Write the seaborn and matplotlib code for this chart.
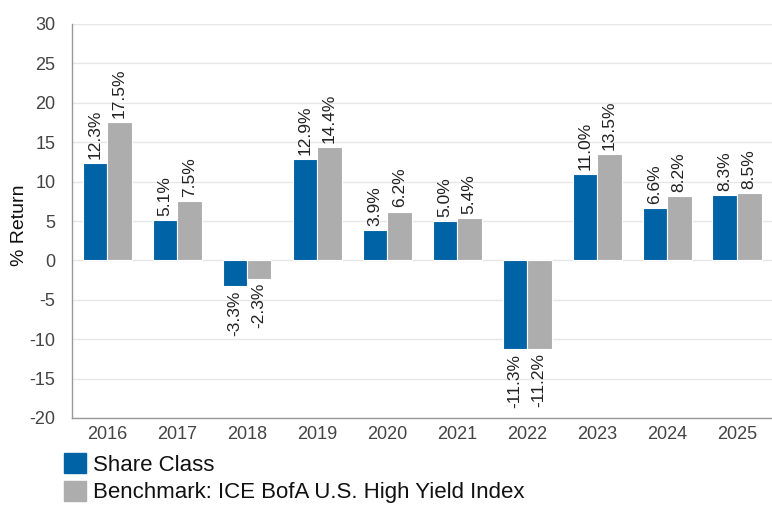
import numpy as np
import pandas as pd
import matplotlib
matplotlib.use("Agg")
import matplotlib.pyplot as plt
import seaborn as sns

years = ["2016", "2017", "2018", "2019", "2020", "2021", "2022", "2023", "2024", "2025"]
share_class = [12.3, 5.1, -3.3, 12.9, 3.9, 5.0, -11.3, 11.0, 6.6, 8.3]
benchmark = [17.5, 7.5, -2.3, 14.4, 6.2, 5.4, -11.2, 13.5, 8.2, 8.5]
series_names = ["Share Class", "Benchmark: ICE BofA U.S. High Yield Index"]

BLUE = "#0063a6"
GRAY = "#adadad"

sns.set_theme(style="white")
plt.rcParams["font.family"] = ["Liberation Sans", "DejaVu Sans"]
plt.rcParams["axes.unicode_minus"] = False

df = pd.DataFrame({
    "year": years * 2,
    "ret": share_class + benchmark,
    "series": [series_names[0]] * len(years) + [series_names[1]] * len(years),
})

fig = plt.figure(figsize=(7.72, 5.05), dpi=100)
ax = fig.add_axes([72 / 772, 1 - 418 / 505, 700 / 772, 394 / 505])

sns.barplot(data=df, x="year", y="ret", hue="series", palette=[BLUE, GRAY],
            saturation=1, width=0.7, edgecolor="white", linewidth=0.8, ax=ax, legend=False)

for cont in ax.containers:
    ax.bar_label(cont, fmt="%.1f%%", rotation=90, padding=3, fontsize=12.5, color="#222222")

ax.set_ylim(-20, 30)
ax.set_yticks(np.arange(-20, 31, 5))
ax.set_xlim(-0.5, len(years) - 0.5)
ax.yaxis.grid(True, color="#e6e6e6", lw=1)
ax.set_axisbelow(True)
ax.set_xlabel("")
ax.set_ylabel("% Return", fontsize=14, color="#111111")
ax.yaxis.set_label_coords(-0.063, 0.49)
ax.tick_params(axis="both", labelsize=13, colors="#444444", length=0)
ax.tick_params(axis="y", pad=12)
ax.tick_params(axis="x", pad=6)
for s in ["top", "right"]:
    ax.spines[s].set_visible(False)
for s in ["left", "bottom"]:
    ax.spines[s].set_color("#999999")
    ax.spines[s].set_linewidth(1)

handles = [plt.Rectangle((0, 0), 1, 1, color=c) for c in [BLUE, GRAY]]
fig.legend(handles, series_names, loc="upper left", bbox_to_anchor=(62 / 772, 1 - 451 / 505),
           frameon=False, fontsize=16, handlelength=1.0, handleheight=1.0,
           handletextpad=0.3, labelspacing=0.22, borderaxespad=0, borderpad=0.1,
           labelcolor="#111111")

fig.savefig("out.png", dpi=100)
